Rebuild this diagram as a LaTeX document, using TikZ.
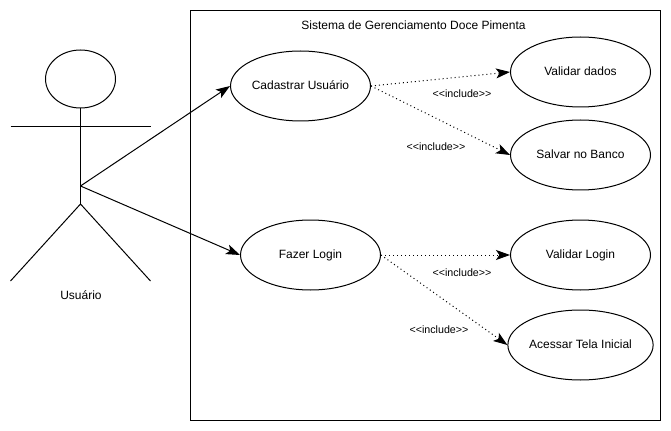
\documentclass[tikz,border=0pt]{standalone}
\usepackage{fontspec}
\setmainfont{Liberation Sans}
\usetikzlibrary{arrows.meta,shapes.geometric}
\tikzset{
  usecase/.style={draw=black, fill=white, ellipse, minimum width=105pt, minimum height=52.5pt,
                  inner sep=0pt, line width=0.75pt, text height=7.2pt, text depth=1.3pt,
                  font=\fontsize{9}{11}\selectfont},
  lbl/.style={inner sep=0pt, font=\fontsize{9}{11}\selectfont},
  inc/.style={inner sep=0pt, font=\fontsize{8}{9}\selectfont},
  limb/.style={line width=0.75pt, draw=black},
  ar/.style={-{Stealth[length=10.5pt,width=7.5pt,inset=2.5pt]}, line width=0.75pt, draw=black},
  ardot/.style={ar, dash pattern=on 0.75pt off 2.25pt}
}
\begin{document}
\begin{tikzpicture}[x=0.75pt,y=-0.75pt]
  \useasboundingbox (0,0) rectangle (671,431);

  \node[draw=black, line width=0.75pt, minimum width=352.5pt, minimum height=307.5pt, inner sep=0pt] (sistema) at (425.5,215.5) {};
  \node[lbl] (titulo) at (413.5,25) {Sistema de Gerenciamento Doce Pimenta};

  % actor
  \node[draw=black, fill=white, ellipse, line width=0.75pt, minimum width=52.5pt, minimum height=43.5pt, inner sep=0pt] (cabeca) at (80.5,79) {};
  \coordinate (quadril) at (80.5,204);
  \coordinate (centro) at (80.5,186);
  \coordinate (bracoE) at (10.5,127);
  \coordinate (bracoD) at (150.5,127);
  \coordinate (peE) at (10.5,281);
  \coordinate (peD) at (150.5,281);
  \draw[limb] (cabeca) -- (quadril);
  \draw[limb] (bracoE) -- (bracoD);
  \draw[limb] (peE) -- (quadril) -- (peD);
  \node[lbl] (usuario) at (81,295) {Usuário};

  \node[usecase] (cadastrar) at (300.5,86) {Cadastrar Usuário};
  \node[usecase] (login) at (310.5,255) {Fazer Login};
  \node[usecase] (validar) at (580.5,72) {Validar dados};
  \node[usecase] (salvar) at (580.5,155) {Salvar no Banco};
  \node[usecase] (vlogin) at (580.5,255) {Validar Login};
  \node[usecase] (tela) at (580.5,345) {Acessar Tela Inicial};

  \draw[ar] (centro) -- (cadastrar.west);
  \draw[ar] (centro) -- (login.west);
  \draw[ardot] (cadastrar.east) -- (validar.west);
  \draw[ardot] (cadastrar.east) -- (salvar.west);
  \draw[ardot] (login.east) -- (vlogin.west);
  \draw[ardot] (login.east) -- (tela.west);

  \node[inc] (inc1) at (462,93.5) {<{}<include>{}>};
  \node[inc] (inc2) at (436,146.5) {<{}<include>{}>};
  \node[inc] (inc3) at (462,272.5) {<{}<include>{}>};
  \node[inc] (inc4) at (439,329.5) {<{}<include>{}>};
\end{tikzpicture}
\end{document}
